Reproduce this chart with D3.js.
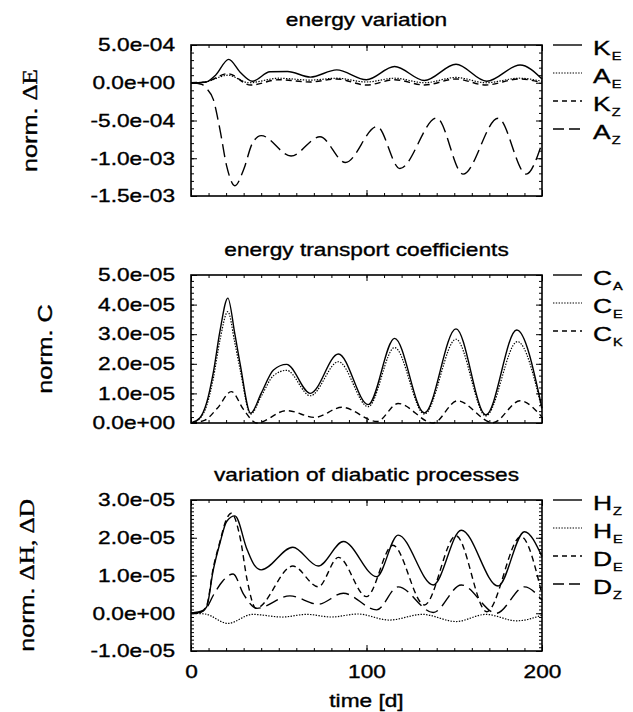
<!DOCTYPE html>
<html>
<head>
<meta charset="utf-8">
<script src="https://cdn.jsdelivr.net/npm/d3@7"></script>
<style>
  body { margin: 0; background: #fff; }
</style>
</head>
<body>
<svg id="chart" width="633" height="712"></svg>
<script>
const SANS = "'Liberation Sans', Arial, Helvetica, sans-serif";
const SERIF = "'Liberation Serif', 'Times New Roman', serif";
const STRETCH = 1.26;       // wide lettering, stretched along the text direction

// ---- time axis ----
const timeDomain = [0, 200];
const timeTicks = [0, 100, 200];
const timeMinorStep = 10;

// ---- panel 1: energy variation (normalised) ----
const energyTicks = [5e-4, 0, -5e-4, -1e-3, -1.5e-3];
const seriesKE = [[0,0],[8,0.05e-4],[14,1.0e-4],[21.5,3.1e-4],[28,1.4e-4],[35,0.2e-4],[45,1.45e-4],[55,1.5e-4],[68,0.75e-4],[83,1.7e-4],[100,0.4e-4],[116,2.15e-4],[133,0.3e-4],[151,2.45e-4],[168.5,0.2e-4],[187.5,2.35e-4],[200,0.5e-4]];
const seriesAE = [[0,0],[8,0.1e-4],[21,1.0e-4],[33,0],[50,0.6e-4],[68,0.35e-4],[83,0.6e-4],[100,0.1e-4],[116,0.6e-4],[133,0],[151,0.7e-4],[168,0],[187,0.6e-4],[200,0.2e-4]];
const seriesKZ = [[0,0],[8,0.1e-4],[21,1.2e-4],[34,-0.3e-4],[50,0.4e-4],[68,0.1e-4],[83,0.5e-4],[100,-0.3e-4],[116,0.4e-4],[133,-0.3e-4],[151,0.5e-4],[168,-0.3e-4],[187,0.5e-4],[200,0]];
const seriesAZ = [[0,0],[6,-0.2e-4],[9,-0.8e-4],[12.7,-2.2e-4],[16.5,-6.2e-4],[20.3,-11e-4],[25,-13.65e-4],[30,-11.5e-4],[35,-8e-4],[40,-7.0e-4],[57,-9.7e-4],[73.5,-7.15e-4],[88,-10.57e-4],[106,-5.8e-4],[119,-11.36e-4],[140,-4.65e-4],[155,-12.1e-4],[175,-4.7e-4],[191,-12.1e-4],[200,-8.0e-4]];

// ---- panel 2: energy transport coefficients ----
const coeffTicks = [5e-5, 4e-5, 3e-5, 2e-5, 1e-5, 0];
const seriesCA = [[0,0],[5,0.17e-5],[9,0.7e-5],[12.7,1.7e-5],[16.5,3.1e-5],[21,4.22e-5],[25,3.0e-5],[28,2.0e-5],[34,0.33e-5],[40,1.0e-5],[47,1.79e-5],[54.5,1.98e-5],[68,1.0e-5],[84,2.33e-5],[101,0.62e-5],[116,2.86e-5],[133,0.34e-5],[151,3.18e-5],[168,0.27e-5],[185.6,3.14e-5],[200,0.5e-5]];
const seriesCE = [[0,0],[5,0.15e-5],[9,0.6e-5],[12.7,1.5e-5],[16.5,2.8e-5],[21,3.76e-5],[25,2.7e-5],[28,1.8e-5],[34,0.3e-5],[40,0.9e-5],[47,1.6e-5],[54.5,1.78e-5],[68,0.92e-5],[84,2.07e-5],[101,0.55e-5],[116,2.55e-5],[133,0.3e-5],[151,2.83e-5],[168,0.24e-5],[186,2.75e-5],[200,0.45e-5]];
const seriesCK = [[0,0],[8,0.1e-5],[15,0.5e-5],[23,1.06e-5],[30,0.45e-5],[37.4,0],[54.5,0.42e-5],[70.6,0.19e-5],[86,0.53e-5],[106,0.05e-5],[118,0.66e-5],[138,0],[151.8,0.75e-5],[172,0.01e-5],[187.5,0.75e-5],[200,0.2e-5]];

// ---- panel 3: variation of diabatic processes ----
const diabaticTicks = [3e-5, 2e-5, 1e-5, 0, -1e-5];
const seriesHZ = [[0,0],[5,0.02e-5],[8.9,0.17e-5],[12.7,1.15e-5],[16.5,1.86e-5],[20.3,2.43e-5],[25,2.58e-5],[32,1.68e-5],[36,1.28e-5],[40,1.15e-5],[58,1.75e-5],[72.5,1.25e-5],[86.8,1.9e-5],[105.8,0.97e-5],[118,2.07e-5],[138,0.75e-5],[154,2.2e-5],[175,0.72e-5],[190,2.16e-5],[200,1.5e-5]];
const seriesHE = [[0,0],[8,-0.02e-5],[21,-0.27e-5],[35,-0.03e-5],[52,-0.1e-5],[66,-0.03e-5],[80,-0.1e-5],[95,-0.02e-5],[113,-0.18e-5],[132,-0.03e-5],[151,-0.22e-5],[168,-0.03e-5],[185.5,-0.2e-5],[200,-0.05e-5]];
const seriesDE = [[0,0],[5,0.02e-5],[8.9,0.2e-5],[12.7,1.2e-5],[16.5,1.9e-5],[20.3,2.5e-5],[23,2.65e-5],[28,2.0e-5],[32,0.88e-5],[37,0.13e-5],[58,1.25e-5],[72.5,0.7e-5],[84,1.48e-5],[100,0.44e-5],[115,1.8e-5],[133,0.22e-5],[151,2.05e-5],[168.5,0.04e-5],[188,2.03e-5],[200,0.5e-5]];
const seriesDZ = [[0,0],[8,0.1e-5],[13,0.5e-5],[18,0.85e-5],[24,1.04e-5],[30,0.5e-5],[37.5,0.13e-5],[56.4,0.46e-5],[72.5,0.24e-5],[86.8,0.53e-5],[105.8,0.09e-5],[118,0.7e-5],[138,0.02e-5],[154,0.75e-5],[174,0],[190,0.7e-5],[200,0.35e-5]];

// line styles
const SOLID = null, DOTTED = "1.4,1.4", SHORTDASH = "6,4", LONGDASH = "13,6";

const panels = [
  {
    title: "energy variation",
    ylabel: [["norm. ", SANS], ["\u0394E", SERIF]],
    ylabelX: 30,
    top: 45, bottom: 196,
    domain: [-1.5e-3, 5e-4], ticks: energyTicks, minorStep: 1e-4,
    series: [
      { main: "K", sub: "E", data: seriesKE, dash: SOLID },
      { main: "A", sub: "E", data: seriesAE, dash: DOTTED },
      { main: "K", sub: "Z", data: seriesKZ, dash: SHORTDASH },
      { main: "A", sub: "Z", data: seriesAZ, dash: LONGDASH }
    ]
  },
  {
    title: "energy transport coefficients",
    ylabel: [["norm. C", SANS]],
    ylabelX: 45,
    top: 275, bottom: 423,
    domain: [0, 5e-5], ticks: coeffTicks, minorStep: 2e-6,
    series: [
      { main: "C", sub: "A", data: seriesCA, dash: SOLID },
      { main: "C", sub: "E", data: seriesCE, dash: DOTTED },
      { main: "C", sub: "K", data: seriesCK, dash: SHORTDASH }
    ]
  },
  {
    title: "variation of diabatic processes",
    ylabel: [["norm. ", SANS], ["\u0394H, \u0394D", SERIF]],
    ylabelX: 27,
    top: 500, bottom: 651,
    domain: [-1e-5, 3e-5], ticks: diabaticTicks, minorStep: 1e-6,
    series: [
      { main: "H", sub: "Z", data: seriesHZ, dash: SOLID },
      { main: "H", sub: "E", data: seriesHE, dash: DOTTED },
      { main: "D", sub: "E", data: seriesDE, dash: SHORTDASH },
      { main: "D", sub: "Z", data: seriesDZ, dash: LONGDASH }
    ]
  }
];

const svg = d3.select("#chart");
const x = d3.scaleLinear(timeDomain, [191, 542]);

// 5.0e-04 style labels: one decimal, signed two-digit exponent, ASCII hyphen
function sci(v) {
  const s = d3.format(".1e")(Math.abs(v) < 1e-15 ? 0 : v).replace(/\u2212/g, "-");
  return s.replace(/e([+-])(\d+)$/, (m, sg, d) => "e" + sg + d.padStart(2, "0"));
}

// widened text block at (px, py); rotated blocks read bottom-to-top
function label(parent, px, py, parts, size, anchor, rotate) {
  const g = parent.append("g")
    .attr("transform", rotate
      ? `translate(${px},${py}) rotate(-90) scale(${STRETCH},1)`
      : `translate(${px},${py}) scale(${STRETCH},1)`);
  const t = g.append("text")
    .attr("text-anchor", anchor || "start")
    .attr("font-size", size)
    .attr("fill", "#000")
    .attr("stroke", "#000")
    .attr("stroke-width", 0.35);
  parts.forEach(([txt, fam]) => t.append("tspan").attr("font-family", fam).text(txt));
  return g;
}

function styleAxis(sel) {
  sel.select(".domain").remove();
  sel.selectAll(".tick line").attr("stroke", "#000").attr("stroke-width", 1);
}

panels.forEach((p, i) => {
  const y = d3.scaleLinear(p.domain, [p.bottom, p.top]);
  const g = svg.append("g");
  const minor = d3.range(p.domain[0], p.domain[1] + p.minorStep / 2, p.minorStep);
  const last = i === panels.length - 1;

  // left axis: minor then major with labels
  g.append("g").attr("transform", `translate(${x(0)},0)`)
    .call(d3.axisLeft(y).tickValues(minor).tickSizeInner(-3).tickSizeOuter(0).tickFormat(""))
    .call(styleAxis);
  const pad = 16;
  const left = g.append("g").attr("transform", `translate(${x(0)},0)`)
    .call(d3.axisLeft(y).tickValues(p.ticks).tickSizeInner(-6).tickSizeOuter(0).tickPadding(pad).tickFormat(sci))
    .call(styleAxis);
  left.selectAll(".tick text")
    .attr("font-family", SANS).attr("font-size", 18).attr("fill", "#000")
    .attr("stroke", "#000").attr("stroke-width", 0.35)
    .attr("x", -pad / STRETCH)
    .attr("transform", `scale(${STRETCH},1)`);

  // right axis
  g.append("g").attr("transform", `translate(${x(200)},0)`)
    .call(d3.axisRight(y).tickValues(minor).tickSizeInner(-3).tickSizeOuter(0).tickFormat(""))
    .call(styleAxis);
  g.append("g").attr("transform", `translate(${x(200)},0)`)
    .call(d3.axisRight(y).tickValues(p.ticks).tickSizeInner(-6).tickSizeOuter(0).tickFormat(""))
    .call(styleAxis);

  // top & bottom time axes
  const tMinor = d3.range(timeDomain[0], timeDomain[1] + 1, timeMinorStep);
  g.append("g").attr("transform", `translate(0,${p.top})`)
    .call(d3.axisTop(x).tickValues(tMinor).tickSizeInner(-3).tickSizeOuter(0).tickFormat(""))
    .call(styleAxis);
  g.append("g").attr("transform", `translate(0,${p.top})`)
    .call(d3.axisTop(x).tickValues(timeTicks).tickSizeInner(-6).tickSizeOuter(0).tickFormat(""))
    .call(styleAxis);
  g.append("g").attr("transform", `translate(0,${p.bottom})`)
    .call(d3.axisBottom(x).tickValues(tMinor).tickSizeInner(-3).tickSizeOuter(0).tickFormat(""))
    .call(styleAxis);
  const bottom = g.append("g").attr("transform", `translate(0,${p.bottom})`)
    .call(d3.axisBottom(x).tickValues(timeTicks).tickSizeInner(-6).tickSizeOuter(0)
      .tickPadding(14).tickFormat(last ? d3.format("d") : ""))
    .call(styleAxis);
  bottom.selectAll(".tick text")
    .attr("font-family", SANS).attr("font-size", 18).attr("fill", "#000")
    .attr("stroke", "#000").attr("stroke-width", 0.35)
    .attr("transform", `scale(${STRETCH},1)`);

  // frame
  g.append("rect")
    .attr("x", x(0)).attr("y", p.top)
    .attr("width", x(200) - x(0)).attr("height", p.bottom - p.top)
    .attr("fill", "none").attr("stroke", "#000").attr("stroke-width", 1.6);

  // curves
  const line = d3.line().x(d => x(d[0])).y(d => y(d[1])).curve(d3.curveMonotoneX);
  p.series.forEach(s => {
    g.append("path").datum(s.data)
      .attr("d", line)
      .attr("fill", "none").attr("stroke", "#000")
      .attr("stroke-width", s.dash === DOTTED ? 1.2 : 1.4)
      .attr("stroke-dasharray", s.dash);
  });

  // title
  label(g, (x(0) + x(200)) / 2, p.top - 19, [[p.title, SANS]], 18, "middle");

  // y label
  label(g, p.ylabelX, (p.top + p.bottom) / 2, p.ylabel, 20, "middle", true)
    .select("text").attr("dy", "0.36em");

  // legend: sample line, letter, subscript placed after the letter
  p.series.forEach((s, k) => {
    const ly = p.top + k * 28;
    g.append("line")
      .attr("x1", 553).attr("x2", 582).attr("y1", ly).attr("y2", ly)
      .attr("stroke", "#000")
      .attr("stroke-width", s.dash === DOTTED ? 1.2 : 1.4)
      .attr("stroke-dasharray", s.dash === LONGDASH ? "11,5" : s.dash === SHORTDASH ? "5,4" : s.dash);
    const mainG = label(g, 593, ly + 10, [[s.main, SANS]], 21, "start");
    const w = mainG.select("text").node().getComputedTextLength() * STRETCH;
    label(g, 593 + w + 1, ly + 15, [[s.sub, SANS]], 11.5, "start");
  });
});

// time axis title
label(svg, (x(0) + x(200)) / 2, 707, [["time [d]", SANS]], 18, "middle");
</script>
</body>
</html>
